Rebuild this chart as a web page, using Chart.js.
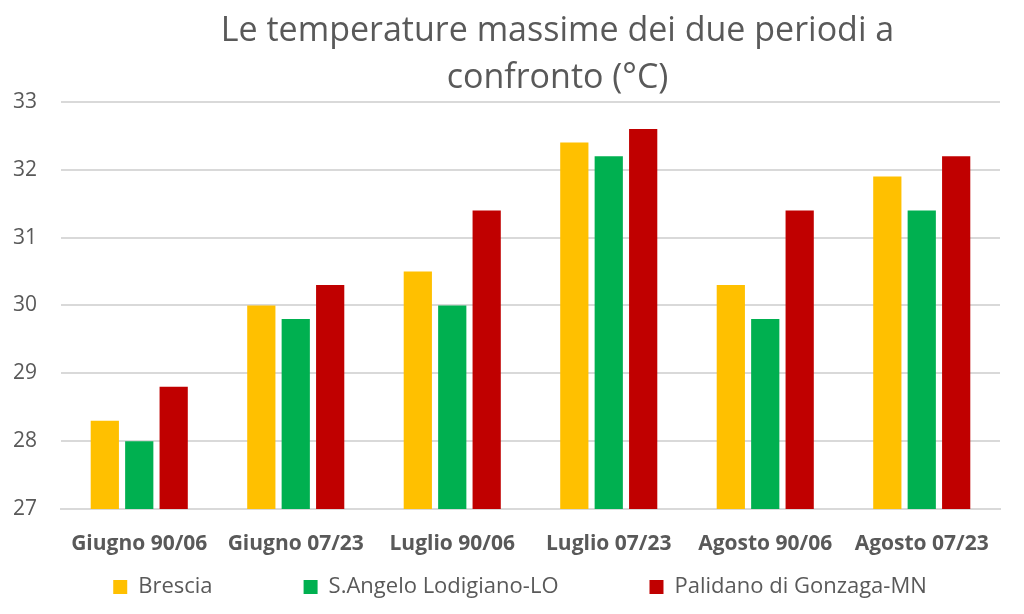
<!DOCTYPE html>
<html>
<head>
<meta charset="utf-8">
<script src="https://cdn.jsdelivr.net/npm/chart.js@4"></script>
<style>
  html, body { margin: 0; padding: 0; background: #fff; }
  #wrap { width: 1024px; height: 614px; }
</style>
</head>
<body>
<div id="wrap"><canvas id="chart"></canvas></div>
<script>
const categories = ['Giugno 90/06', 'Giugno 07/23', 'Luglio 90/06', 'Luglio 07/23', 'Agosto 90/06', 'Agosto 07/23'];
const brescia = [28.3, 30.0, 30.5, 32.4, 30.3, 31.9];
const santangelo = [28.0, 29.8, 30.0, 32.2, 29.8, 31.4];
const palidano = [28.8, 30.3, 31.4, 32.6, 31.4, 32.2];
const seriesNames = ['Brescia', 'S.Angelo Lodigiano-LO', 'Palidano di Gonzaga-MN'];
const seriesColors = ['#FFC000', '#00B050', '#C00000'];

const font = "'Open Sans', 'Liberation Sans', sans-serif";

// Excel-ish placement: legend items spread wide and pulled up close to the
// axis labels, title sits a bit right of the middle
const excelPlacement = {
  id: 'excelPlacement',
  afterLayout(chart) {
    const lg = chart.legend;
    lg.top = 576 - lg.options.labels.padding;
    lg.left -= 20;
    lg.right += 60;
    chart.titleBlock.left += 115;
  }
};

new Chart(document.getElementById('chart'), {
  type: 'bar',
  data: {
    labels: categories,
    datasets: [brescia, santangelo, palidano].map((vals, i) => ({
      label: seriesNames[i],
      data: vals,
      backgroundColor: seriesColors[i],
      borderWidth: 0,
      barPercentage: 0.82,
      categoryPercentage: 0.66
    }))
  },
  options: {
    responsive: true,
    maintainAspectRatio: false,
    animation: false,
    layout: { padding: { left: 0, right: 24, top: 5, bottom: 6 } },
    plugins: {
      title: {
        display: true,
        text: ['Le temperature massime dei due periodi a', 'confronto (°C)'],
        color: '#595959',
        font: { family: font, size: 34, weight: 'normal', lineHeight: 1.38 },
        padding: { top: 3, bottom: 0 }
      },
      legend: {
        position: 'bottom',
        maxHeight: 44,
        labels: {
          color: '#595959',
          font: { family: font, size: 22 },
          boxWidth: 14,
          boxHeight: 14,
          padding: 91
        }
      },
      tooltip: { enabled: false }
    },
    scales: {
      x: {
        grid: { display: false },
        border: { color: '#D9D9D9', width: 2 },
        afterFit(scale) { scale.height = 55; },
        ticks: {
          color: '#595959',
          font: { family: font, size: 21, weight: 'bold' },
          maxRotation: 0,
          autoSkip: false,
          padding: 14
        }
      },
      y: {
        min: 27,
        max: 33,
        grid: { color: '#D9D9D9', lineWidth: 2, drawTicks: false },
        border: { display: false },
        afterFit(scale) { scale.width = 61; },
        ticks: {
          stepSize: 1,
          color: '#595959',
          font: { family: font, size: 21 },
          padding: 24
        }
      }
    }
  },
  plugins: [excelPlacement]
});
</script>
</body>
</html>
